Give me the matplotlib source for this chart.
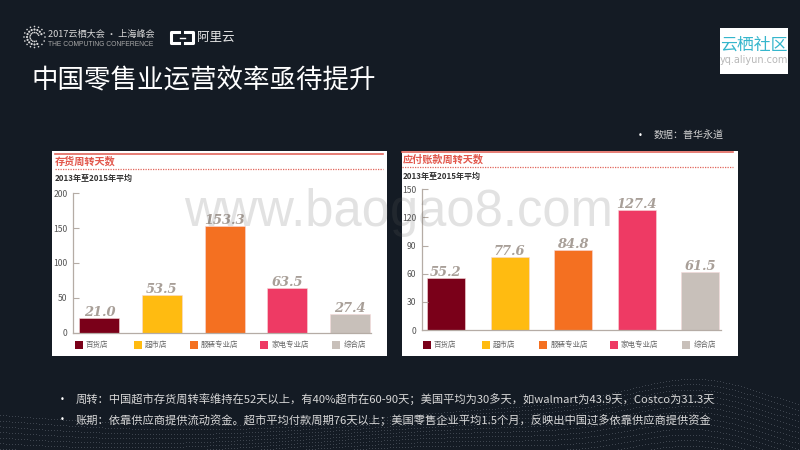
import numpy as np
import matplotlib
matplotlib.use("Agg")
import matplotlib.pyplot as plt
from matplotlib.patches import Rectangle, Circle

plt.rcParams['font.family'] = ['Noto Sans CJK SC', 'DejaVu Sans']

# 数据
categories = ["百货店", "超市店", "服装专业店", "家电专业店", "综合店"]
inventory_days = [21.0, 53.5, 153.3, 63.5, 27.4]
payable_days = [55.2, 77.6, 84.8, 127.4, 61.5]
inventory_ticks = [0, 50, 100, 150, 200]
payable_ticks = [0, 30, 60, 90, 120, 150]
bar_colors = ["#7a0019", "#ffbb11", "#f47021", "#ee3a64", "#c8c0ba"]

title = "中国零售业运营效率亟待提升"
source = "数据：普华永道"
note1 = "周转：中国超市存货周转率维持在52天以上，有40%超市在60-90天；美国平均为30多天，如walmart为43.9天，Costco为31.3天"
note2 = "账期：依靠供应商提供流动资金。超市平均付款周期76天以上；美国零售企业平均1.5个月，反映出中国过多依靠供应商提供资金"

BG = "#141b24"
W, H = 800, 450

fig = plt.figure(figsize=(8, 4.5), dpi=100, facecolor=BG)

# 整张图的像素坐标层
bg = fig.add_axes([0, 0, 1, 1], zorder=0)
bg.set_xlim(0, W)
bg.set_ylim(H, 0)
bg.axis("off")

top = fig.add_axes([0, 0, 1, 1], zorder=5)
top.set_xlim(0, W)
top.set_ylim(H, 0)
top.axis("off")
top.patch.set_alpha(0)


def box(x0, y0, x1, y1):
    return [x0 / W, 1 - y1 / H, (x1 - x0) / W, (y1 - y0) / H]


# 底部点状纹理
dot_x = np.arange(0, W, 3.0)
for k in range(14):
    dot_y = 415 + 10 * np.sin(dot_x / 130 + k * 0.12) - 28 * np.exp(-((dot_x - 700) / 95) ** 2) + k * 4.5
    keep = dot_y < H
    bg.scatter(dot_x[keep], dot_y[keep], s=0.5, color="#7d848e", alpha=0.3, linewidths=0)


def draw_panel(px, ax_box, values, ticks, name, bar_w, xlim, swatches, labels_x, text_x, line_x, dy):
    x0, x1 = px
    bg.add_patch(Rectangle((x0, 151), x1 - x0, 205, fc="white", ec="none"))
    bg.plot(line_x, [153.5 + dy, 153.5 + dy], color="#e2665c", lw=1.2)
    bg.plot(line_x, [169 + dy, 169 + dy], color="#e2665c", lw=0.9, ls=(0, (1, 1)))
    bg.text(text_x, 161 + dy, name, color="#e2574c", fontsize=7.3, fontweight="bold", va="center")
    bg.text(text_x, 178 + dy, "2013年至2015年平均", color="#333333", fontsize=5.8, fontweight="bold", va="center")

    ax = fig.add_axes(box(*ax_box), zorder=1)
    ax.patch.set_alpha(0)
    xs = np.arange(len(values))
    ax.bar(xs, values, width=bar_w, color=bar_colors, edgecolor="#f6d9d9", linewidth=0.4)
    ax.set_xlim(*xlim)
    ax.set_ylim(ticks[0], ticks[-1])
    ax.set_xticks([])
    ax.set_yticks(ticks)
    ax.tick_params(axis="y", direction="in", length=4, width=0.8, color="#b5aca5",
                   labelcolor="#555555", labelsize=6.2, pad=4)
    for s in ["top", "right"]:
        ax.spines[s].set_visible(False)
    for s in ["left", "bottom"]:
        ax.spines[s].set_color("#b5aca5")
        ax.spines[s].set_linewidth(0.9)
    for x, v in zip(xs, values):
        ax.annotate(f"{v:.1f}", (x, v), xytext=(0, -0.7), textcoords="offset points",
                    ha="center", va="bottom", color="#a89f98", fontsize=9.4,
                    family="DejaVu Serif", fontweight="bold", style="italic")

    # 图例
    for sx, tx, c, lab in zip(swatches, labels_x, bar_colors, categories):
        bg.add_patch(Rectangle((sx, 341), 7.6, 8, fc=c, ec="none"))
        bg.text(tx, 345, lab, color="#666666", fontsize=5.4, va="center")
    return ax


draw_panel((52, 387), (73, 193.3, 371, 332.7), inventory_days, inventory_ticks, "存货周转天数",
           0.638, (-0.42, 4.335), [75, 134, 190, 260, 332], [86, 145, 201, 272, 344],
           55, [55, 383], 0)
draw_panel((402, 738), (421.7, 189.3, 721, 330), payable_days, payable_ticks, "应付账款周转天数",
           0.6, (-0.382, 4.325), [423, 482, 539, 610, 682], [434, 493, 551, 621, 694],
           403, [402, 733], -2)

# 水印
top.text(398.5, 226, "www.baogao8.com", color="#606060", alpha=0.18, fontsize=36.5,
         family="Liberation Sans", ha="center", va="baseline")

# 标题和说明
bg.text(31, 81, title, color="white", fontsize=19.1, va="center")
bg.text(640, 135, "•", color="white", fontsize=6, ha="center", va="center", family="DejaVu Sans")
bg.text(654, 135, source, color="#cfcfcf", fontsize=7.2, va="center")
for y, note in [(399, note1), (420, note2)]:
    bg.text(62, y, "•", color="white", fontsize=6, ha="center", va="center", family="DejaVu Sans")
    bg.text(76, y, note, color="#d8d8d8", fontsize=8.1, va="center")

# 大会 logo
angles = np.linspace(0, 2 * np.pi, 16, endpoint=False)
for r, s in [(10.5, 1.6), (7.5, 2.2), (4.5, 1.6)]:
    for a in angles:
        if r < 8 and -0.7 < a - np.pi * 0.15 < 0.7:
            continue
        bg.add_patch(Circle((34.5 + r * np.cos(a), 37 + r * np.sin(a)), s / 2, fc="#d8d8d8", ec="none"))
bg.text(48, 34, "2017云栖大会 · 上海峰会", color="#d8d8d8", fontsize=6.6, va="center")
bg.text(48, 44, "THE COMPUTING CONFERENCE", color="#a8a8a8", fontsize=4.9, va="center",
        family="Liberation Sans")

# 阿里云 logo
bg.plot([179, 171, 171, 179], [32, 32, 43, 43], color="white", lw=2.2, solid_joinstyle="round")
bg.plot([185, 193, 193, 185], [32, 32, 43, 43], color="white", lw=2.2, solid_joinstyle="round")
bg.plot([179.5, 184.5], [37.5, 37.5], color="white", lw=1)
bg.text(197, 37.5, "阿里云", color="#e8e8e8", fontsize=9, va="center")

# 云栖社区 logo
bg.add_patch(Rectangle((720, 28), 68, 46, fc="white", ec="none"))
bg.text(754, 45, "云栖社区", color="#35b6cc", fontsize=12.2, fontweight="medium", ha="center", va="center")
bg.text(754, 60, "yq.aliyun.com", color="#b8b8b8", fontsize=7, ha="center", va="center",
        family="DejaVu Sans")

fig.savefig("out.png", dpi=100, facecolor=BG)
